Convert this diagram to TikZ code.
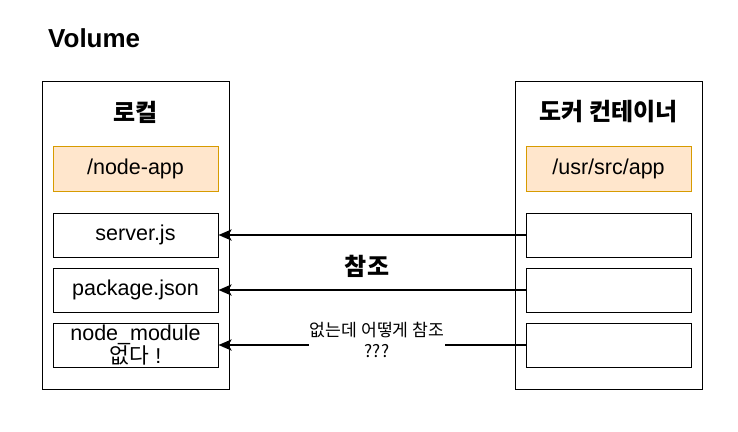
\documentclass[tikz,border=0pt]{standalone}
\usepackage{fontspec}
\setmainfont{Liberation Sans}
\newfontfamily\kr{Noto Sans CJK KR}
\usetikzlibrary{arrows.meta}
\definecolor{orfill}{HTML}{FFE6CC}
\definecolor{ordraw}{HTML}{D79B00}
\begin{document}
\begin{tikzpicture}[x=1pt,y=-1pt,
  outerbox/.style={draw=black,line width=1pt,minimum width=187pt,minimum height=308pt,inner sep=0pt},
  itembox/.style={draw=black,line width=1pt,minimum width=165pt,minimum height=44pt,inner sep=0pt,align=center,font=\fontsize{21.5}{23.5}\selectfont},
  pathbox/.style={itembox,fill=orfill,draw=ordraw,minimum height=45pt},
  titletext/.style={font=\kr\bfseries\fontsize{24}{28}\selectfont,inner sep=0pt},
  arr/.style={line width=2.6pt,-{Stealth[length=13pt,width=11pt,inset=3pt]}},
]
\useasboundingbox (0,0) rectangle (738,431);
\node[anchor=west,font=\bfseries\fontsize{26}{28}\selectfont,inner sep=0pt] (vol) at (48,38) {Volume};
% left container
\node[outerbox] (outL) at (135.5,235) {};
\node[titletext] (tL) at (135.5,112) {로컬};
\node[pathbox] (pL) at (135.5,168.5) {/node-app};
\node[itembox] (sL) at (135.5,235) {server.js};
\node[itembox] (kL) at (135.5,290) {package.json};
\node[itembox] (mL) at (135.5,345) {node\_module\\{\kr 없다} !};
% right container
\node[outerbox] (outR) at (608.5,235) {};
\node[titletext] (tR) at (608.5,112) {도커 컨테이너};
\node[pathbox] (pR) at (608.5,168.5) {/usr/src/app};
\node[itembox] (sR) at (608.5,235) {};
\node[itembox] (kR) at (608.5,290) {};
\node[itembox] (mR) at (608.5,345) {};
% arrows
\draw[arr] (sR.west) -- (sL.east);
\draw[arr] (kR.west) -- (kL.east);
\draw[arr] (mR.west) -- (mL.east);
\node[titletext] (ref) at (367,266) {참조};
\node[fill=white,inner sep=1pt,align=center,font=\kr\fontsize{17.2}{21}\selectfont] (q) at (377,340) {없는데 어떻게 참조\\???};
\end{tikzpicture}
\end{document}
